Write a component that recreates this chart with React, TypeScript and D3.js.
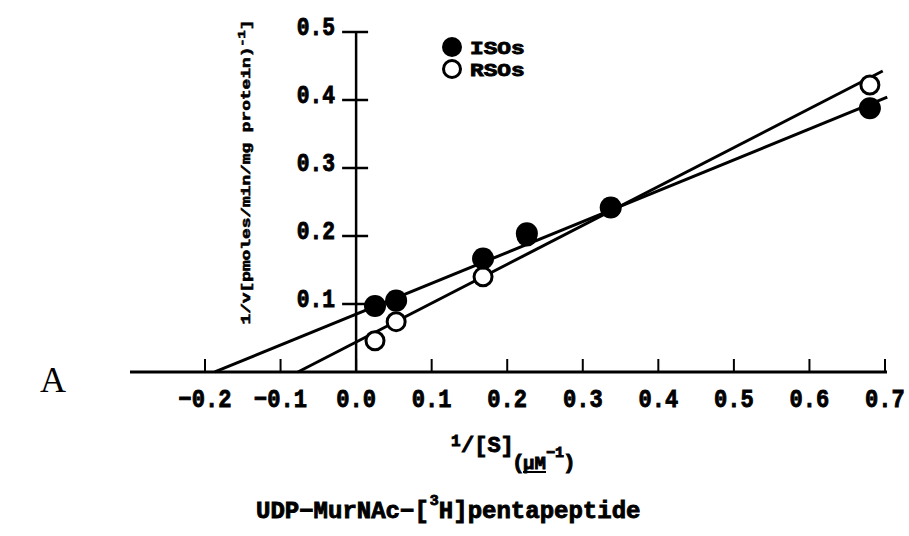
import React from "react";
import * as d3 from "d3";

// ---- data ----
const isoX = [0.025, 0.053, 0.168, 0.226, 0.337, 0.68];
const isoY = [0.097, 0.105, 0.167, 0.204, 0.242, 0.388];
const rsoX = [0.025, 0.053, 0.168, 0.226, 0.337, 0.68];
const rsoY = [0.046, 0.074, 0.140, 0.200, 0.242, 0.422];
// fitted lines (intercept, slope, x-range)
const isoFit = [0.085, 0.454];
const isoFitRange = [-0.187, 0.703];
const rsoFit = [0.044, 0.572];
const rsoFitRange = [-0.077, 0.697];

const xTicks = [-0.2, -0.1, 0.0, 0.1, 0.2, 0.3, 0.4, 0.5, 0.6, 0.7];
const yTicks = [0.1, 0.2, 0.3, 0.4, 0.5];
const legendLabels = ["ISOs", "RSOs"];

const W = 909;
const H = 536;
const MONO = "'Liberation Mono', 'DejaVu Sans Mono', monospace";
const heavy = { stroke: "#000", strokeWidth: 0.9 };

export default function App() {
  const x = d3.scaleLinear().domain([-0.2, 0.7]).range([205, 885]);
  const y = d3.scaleLinear().domain([0, 0.5]).range([372, 32]);
  const line = d3
    .line<number[]>()
    .x((d) => x(d[0]))
    .y((d) => y(d[1]));

  const fitPts = (fit: number[], r: number[]) =>
    r.map((v) => [v, fit[0] + fit[1] * v]);

  const isoPts = isoX.map((v, i) => [v, isoY[i]]);
  const rsoPts = rsoX.map((v, i) => [v, rsoY[i]]);

  const x0 = x.invert(130);
  const x1 = x.invert(887);

  return (
    <svg
      width={W}
      height={H}
      style={{ position: "absolute", left: 0, top: 0, background: "#fff" }}
    >
      <rect x={0} y={0} width={W} height={H} fill="#fff" />
      {/* x axis */}
      <line x1={x(x0)} x2={x(x1)} y1={y(0)} y2={y(0)} stroke="#000" strokeWidth={3} />
      {xTicks.map((t) => (
        <line key={t} x1={x(t)} x2={x(t)} y1={y(0)} y2={y(0) - 13} stroke="#000" strokeWidth={2} />
      ))}
      {xTicks.map((t) => (
        <text
          key={"l" + t}
          transform={`translate(${x(t)},${y(0) + 35}) scale(0.85,1)`}
          textAnchor="middle"
          fontFamily={MONO}
          fontWeight="bold"
          fontSize={26}
          {...heavy}
        >
          {(t < 0 ? "\u2212" : "") + Math.abs(t).toFixed(1)}
        </text>
      ))}
      {/* y axis */}
      <line x1={x(0)} x2={x(0)} y1={y(0)} y2={y(0.5)} stroke="#000" strokeWidth={2.5} />
      {yTicks.map((t) => (
        <line key={t} x1={x(0) - 14} x2={x(0) + 12} y1={y(t)} y2={y(t)} stroke="#000" strokeWidth={2.5} />
      ))}
      {yTicks.map((t) => (
        <text
          key={"yl" + t}
          transform={`translate(${x(0) - 21},${y(t) + 3}) scale(0.85,1)`}
          textAnchor="end"
          fontFamily={MONO}
          fontWeight="bold"
          fontSize={25}
          {...heavy}
        >
          {t.toFixed(1)}
        </text>
      ))}
      {/* y label */}
      <text
        transform={`translate(250,172) rotate(-90)`}
        textAnchor="middle"
        fontFamily={MONO}
        fontWeight="bold"
        fontSize={13}
        textLength={305}
        lengthAdjust="spacingAndGlyphs"
        stroke="#000"
        strokeWidth={0.6}
      >
        1/v[pmoles/min/mg protein)<tspan dy={-5} fontSize={10}>-1</tspan><tspan dy={5}>]</tspan>
      </text>

      {/* fitted lines */}
      <path d={line(fitPts(isoFit, isoFitRange)) || ""} fill="none" stroke="#000" strokeWidth={3} />
      <path d={line(fitPts(rsoFit, rsoFitRange)) || ""} fill="none" stroke="#000" strokeWidth={3} />

      {/* points */}
      {rsoPts.map((p, i) => (
        <circle key={"r" + i} cx={x(p[0])} cy={y(p[1])} r={9} fill="#fff" stroke="#000" strokeWidth={3} />
      ))}
      {isoPts.map((p, i) => (
        <circle key={"i" + i} cx={x(p[0])} cy={y(p[1])} r={11} fill="#000" />
      ))}

      {/* legend */}
      <circle cx={452} cy={47} r={10} fill="#000" />
      <circle cx={452} cy={69} r={8.5} fill="#fff" stroke="#000" strokeWidth={3} />
      {legendLabels.map((l, i) => (
        <text
          key={l}
          transform={`translate(470,${54 + i * 22}) scale(1.2,1)`}
          fontFamily={MONO}
          fontWeight="bold"
          fontSize={19}
          {...heavy}
        >
          {l}
        </text>
      ))}

      {/* panel letter */}
      <text x={40} y={392} fontFamily="'Liberation Serif', serif" fontSize={36}>
        A
      </text>

      {/* x title */}
      <text x={451} y={446} fontFamily={MONO} fontWeight="bold" fontSize={16} {...heavy}>1</text>
      <text x={461} y={452} fontFamily={MONO} fontWeight="bold" fontSize={22} {...heavy}>/[S]</text>
      <text x={512} y={469} fontFamily={MONO} fontWeight="bold" fontSize={21} {...heavy}>(</text>
      <text x={523} y={469} fontFamily={MONO} fontWeight="bold" fontSize={19} {...heavy}>{"\u00b5M"}</text>
      <line x1={523} x2={546} y1={472} y2={472} stroke="#000" strokeWidth={2} />
      <text x={546} y={457} fontFamily={MONO} fontWeight="bold" fontSize={15} {...heavy}>{"\u22121"}</text>
      <text x={563} y={469} fontFamily={MONO} fontWeight="bold" fontSize={21} {...heavy}>)</text>

      <text x={256} y={518} fontFamily={MONO} fontWeight="bold" fontSize={24} {...heavy}>
        {"UDP\u2212MurNAc\u2212["}
        <tspan dy={-13} dx={1} fontSize={15}>3</tspan>
        <tspan dy={13}>H]pentapeptide</tspan>
      </text>
    </svg>
  );
}
